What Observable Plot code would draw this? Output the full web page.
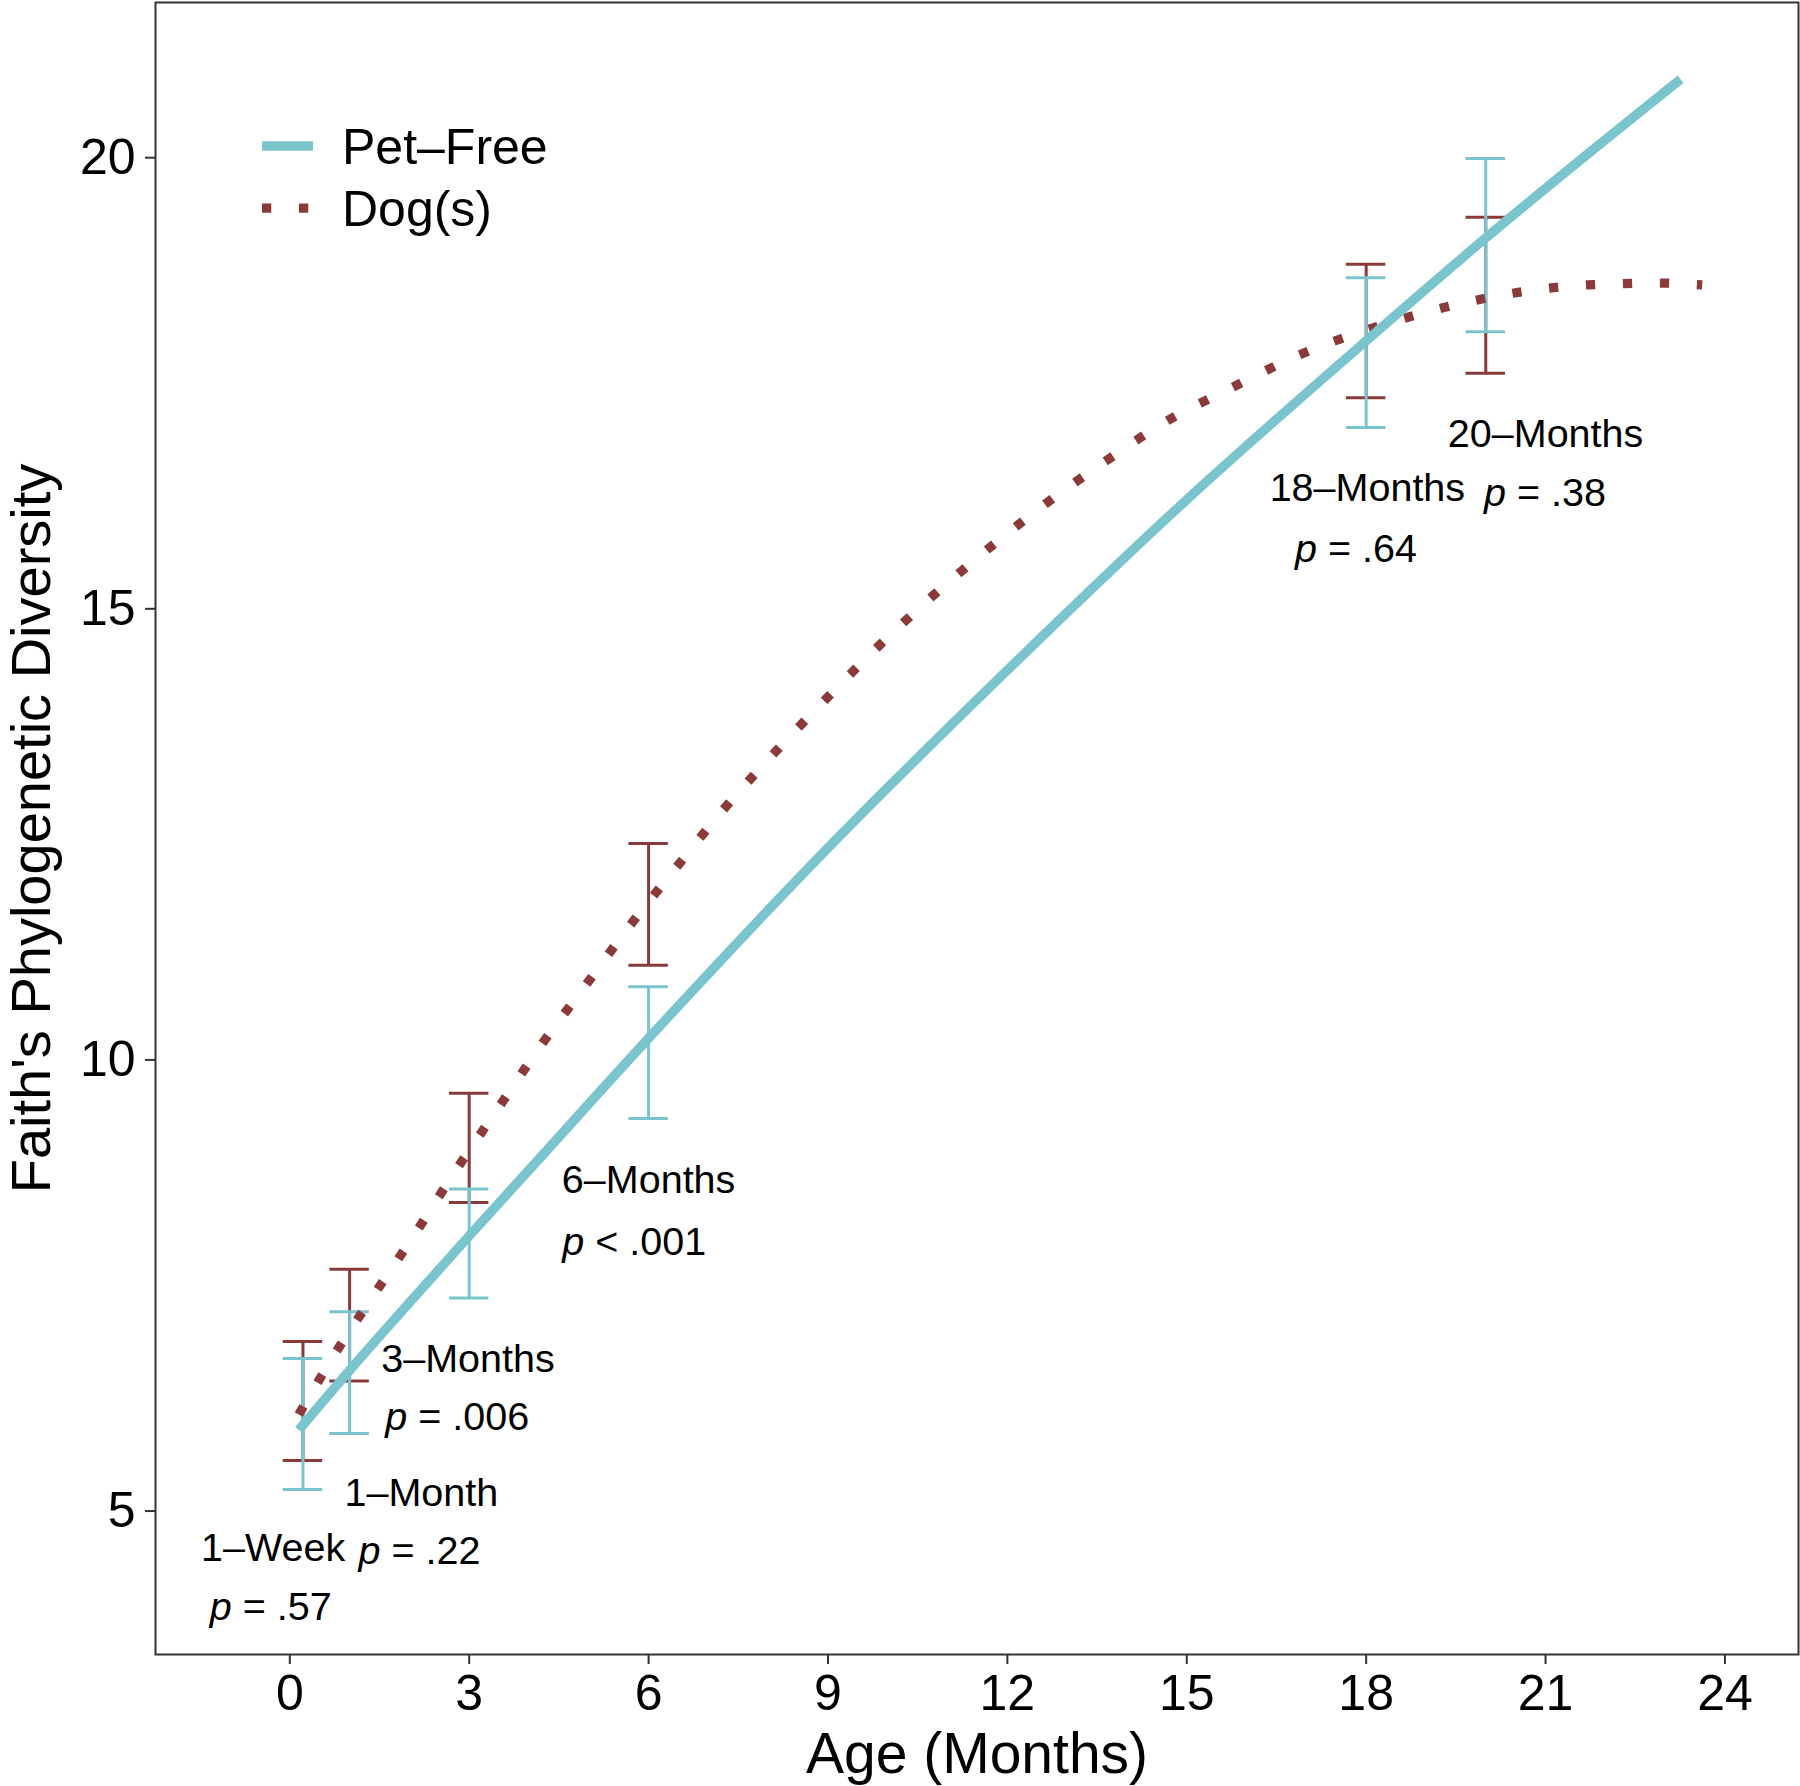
<!DOCTYPE html>
<html>
<head>
<meta charset="utf-8">
<script src="https://cdn.jsdelivr.net/npm/d3@7"></script>
<script src="https://cdn.jsdelivr.net/npm/@observablehq/plot@0.6"></script>
<style>
  body { margin: 0; background: #fff; }
  #chart svg { display: block; }
</style>
</head>
<body>
<div id="chart"></div>
<script>
// ---------- data ----------
const seriesNames = ["Pet–Free", "Dog(s)"];
const seriesColors = ["#7AC5CD", "#8B3A3A"];

// time points (months) with error bars
const ages = [0.22, 1, 3, 6, 18, 20];
const timepointLabels = ["1–Week", "1–Month", "3–Months", "6–Months", "18–Months", "20–Months"];
const pLabels = ["p = .57", "p = .22", "p = .006", "p < .001", "p = .64", "p = .38"];

const petFreeLow  = [5.24, 5.86, 7.36, 9.35, 17.01, 18.07];
const petFreeHigh = [6.69, 7.21, 8.57, 10.81, 18.67, 19.99];
const dogLow      = [5.56, 6.44, 8.42, 11.05, 17.34, 17.61];
const dogHigh     = [6.88, 7.68, 9.63, 12.40, 18.82, 19.34];

// annotation anchors (data units)
const labelAge = [-0.28, 2.20, 2.98, 6.00, 18.02, 21.00];
const labelPD  = [4.59, 5.20, 6.68, 8.66, 16.33, 16.93];
const pAge     = [-0.32, 2.17, 2.80, 5.76, 17.83, 20.99];
const pPD      = [3.93, 4.55, 6.04, 7.98, 15.66, 16.28];

// fitted trajectories
const petFreeAge = [0.15, 1, 2, 3, 4, 6, 9, 12, 15, 18, 20, 23.26];
const petFreeFit = [5.90, 6.56, 7.31, 8.05, 8.78, 10.24, 12.35, 14.32, 16.21, 17.97, 19.11, 20.87];

const dogAge = [0.15, 0.80, 1.45, 2.12, 2.80, 3.50, 4.21, 4.95, 5.70, 6.47, 7.27, 8.10, 8.95, 9.82,
                10.73, 11.67, 12.65, 13.65, 14.69, 15.78, 16.87, 18.05, 19.25, 20.47, 21.70, 22.94, 23.62];
const dogFit = [6.07, 6.79, 7.44, 8.10, 8.80, 9.48, 10.17, 10.83, 11.50, 12.14, 12.79, 13.40, 13.99, 14.57,
                15.13, 15.66, 16.17, 16.64, 17.09, 17.46, 17.81, 18.10, 18.33, 18.50, 18.59, 18.61, 18.59];

const xTicks = [0, 3, 6, 9, 12, 15, 18, 21, 24];
const yTicks = [5, 10, 15, 20];
const xTitle = "Age (Months)";
const yTitle = "Faith's Phylogenetic Diversity";

// ---------- build tables ----------
const FONT = "'Liberation Sans', Arial, Helvetica, sans-serif";
const capHalf = 0.33;
const petErr = ages.map((age, i) => ({age, low: petFreeLow[i], high: petFreeHigh[i]}));
const dogErr = ages.map((age, i) => ({age, low: dogLow[i], high: dogHigh[i]}));
const petRows = petFreeAge.map((age, i) => ({age, fit: petFreeFit[i]}));
const dogRows = dogAge.map((age, i) => ({age, fit: dogFit[i]}));
const labelRows = timepointLabels.map((label, i) => ({label, age: labelAge[i], pd: labelPD[i]}));
const pRows = pLabels.map((label, i) => ({label, age: pAge[i], pd: pPD[i]}));

function errorMarks(rows, color) {
  return [
    Plot.ruleX(rows, {x: "age", y1: "low", y2: "high", stroke: color, strokeWidth: 3}),
    Plot.ruleY(rows, {y: "low", x1: d => d.age - capHalf, x2: d => d.age + capHalf, stroke: color, strokeWidth: 3}),
    Plot.ruleY(rows, {y: "high", x1: d => d.age - capHalf, x2: d => d.age + capHalf, stroke: color, strokeWidth: 3})
  ];
}

// legend drawn inside the panel, top-left
function legendMark(index, scales, values, dimensions) {
  const g = d3.create("svg:g").attr("font-family", FONT).attr("text-anchor", "start");
  const left = dimensions.marginLeft + 107;
  const rows = [146, 208];
  seriesNames.forEach((name, i) => {
    const y = rows[i];
    const line = g.append("line")
      .attr("x1", left).attr("x2", left + (i === 0 ? 51 : 47))
      .attr("y1", y).attr("y2", y)
      .attr("stroke", seriesColors[i])
      .attr("stroke-width", i === 0 ? 9.5 : 9.25);
    if (i === 1) line.attr("stroke-dasharray", "9.25 27.75");
    g.append("text")
      .attr("x", left + 80).attr("y", y).attr("dy", "0.35em")
      .attr("text-anchor", "start")
      .attr("font-size", 50).attr("fill", "#000")
      .text(name);
  });
  return g.node();
}

const chart = Plot.plot({
  width: 1800,
  height: 1786,
  marginLeft: 155,
  marginRight: 2,
  marginTop: 2,
  marginBottom: 132,
  x: {domain: [-2.246, 25.23]},
  y: {domain: [3.41, 21.72]},
  style: {fontFamily: FONT, background: "#fff", color: "#000"},
  marks: [
    ...errorMarks(dogErr, seriesColors[1]),
    ...errorMarks(petErr, seriesColors[0]),
    Plot.line(dogRows, {x: "age", y: "fit", stroke: seriesColors[1], strokeWidth: 9.25,
      strokeDasharray: "9.25 27.75", strokeLinecap: "butt", curve: "monotone-x"}),
    Plot.line(petRows, {x: "age", y: "fit", stroke: seriesColors[0], strokeWidth: 9.5,
      strokeLinecap: "butt", curve: "monotone-x"}),
    Plot.text(labelRows, {x: "age", y: "pd", text: "label", fontSize: 39.5, textAnchor: "middle",
      lineAnchor: "middle", fill: "#000"}),
    Plot.text(pRows, {x: "age", y: "pd", text: "label", fontSize: 39.5, textAnchor: "middle",
      lineAnchor: "middle", fill: "#000"}),
    Plot.frame({stroke: "#333", strokeWidth: 2}),
    Plot.axisX({ticks: xTicks, tickSize: 10, tickPadding: 10, fontSize: 50, label: null,
      stroke: "#333", strokeWidth: 2, fill: "#000"}),
    Plot.axisY({ticks: yTicks, tickSize: 10, tickPadding: 10, fontSize: 50, label: null,
      stroke: "#333", strokeWidth: 2, fill: "#000"}),
    Plot.text([xTitle], {text: d => d, frameAnchor: "bottom", dy: 100, fontSize: 57,
      lineAnchor: "middle", fill: "#000"}),
    Plot.text([yTitle], {text: d => d, frameAnchor: "left", dx: -123, rotate: -90, fontSize: 56,
      lineAnchor: "middle", textAnchor: "middle", fill: "#000"}),
    legendMark
  ]
});

// italic "p" in the p-value annotations
d3.select(chart).selectAll("text").each(function () {
  const t = this.textContent;
  if (/^p [=<] /.test(t) && this.childElementCount === 0) {
    const sel = d3.select(this);
    sel.text("");
    sel.append("tspan").attr("font-style", "italic").text("p");
    sel.append("tspan").text(t.slice(1));
  }
});

document.getElementById("chart").appendChild(chart);
</script>
</body>
</html>
